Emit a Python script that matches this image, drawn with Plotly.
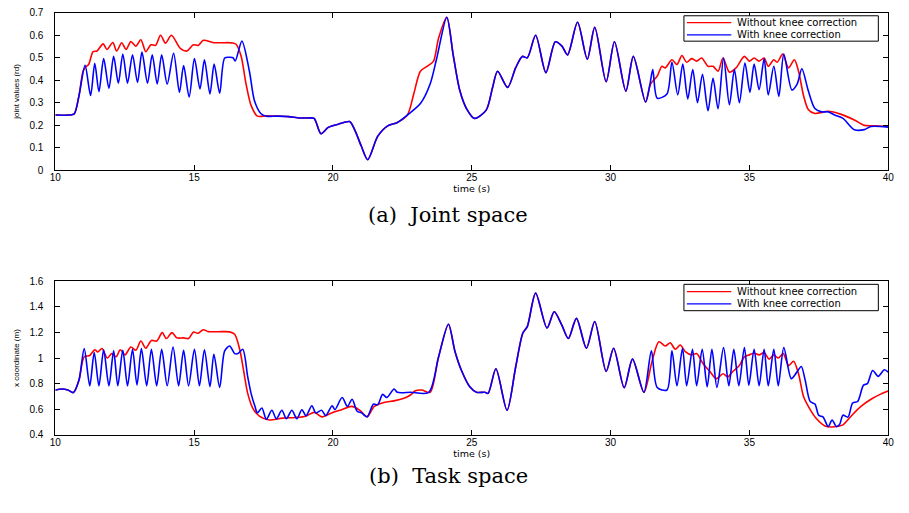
import plotly.graph_objects as go

# ---------------- joint space (upper panel) ----------------
joint_red_t = [10.0, 10.5, 10.68, 10.85, 11.0, 11.1, 11.2, 11.36, 11.5, 11.72, 11.86, 12.07, 12.21, 12.39,
               12.55, 12.72, 12.90, 13.08, 13.26, 13.44, 13.61, 13.79, 13.97, 14.18, 14.50, 14.74, 14.97,
               15.15, 15.33, 15.70, 16.0, 16.40, 16.51, 16.69, 16.87, 17.05, 17.28, 17.6, 18.0, 18.4, 18.8,
               19.1, 19.32, 19.57, 19.83, 20.19, 20.60, 20.78, 21.02, 21.25, 21.61, 21.96, 22.32, 22.68,
               22.91, 23.15, 23.39, 23.62, 23.80, 24.10, 24.33, 24.57, 24.81, 25.10, 25.52, 25.75, 25.93,
               26.29, 26.58, 26.82, 27.0, 27.30, 27.67, 28.01, 28.24, 28.45, 28.81, 29.16, 29.43, 29.84,
               30.14, 30.55, 30.82, 31.26, 31.44, 31.68, 31.85, 31.97, 32.21, 32.39, 32.57, 32.74, 32.92,
               33.1, 33.28, 33.51, 33.69, 33.87, 34.05, 34.28, 34.52, 34.82, 35.0, 35.17, 35.35, 35.53,
               35.68, 35.88, 36.0, 36.2, 36.41, 36.62, 36.77, 36.95, 37.12, 37.36, 37.84, 38.31, 38.78,
               39.14, 39.5, 40.0]
joint_red = [0.245, 0.245, 0.25, 0.33, 0.44, 0.46, 0.47, 0.527, 0.53, 0.562, 0.537, 0.568, 0.53, 0.567,
             0.537, 0.572, 0.552, 0.58, 0.527, 0.558, 0.555, 0.60, 0.565, 0.60, 0.542, 0.53, 0.558,
             0.555, 0.578, 0.567, 0.567, 0.566, 0.56, 0.508, 0.383, 0.288, 0.24, 0.242, 0.24, 0.238, 0.232,
             0.232, 0.23, 0.162, 0.19, 0.204, 0.216, 0.18, 0.107, 0.046, 0.15, 0.196, 0.212, 0.245,
             0.339, 0.44, 0.462, 0.484, 0.585, 0.68, 0.513, 0.354, 0.274, 0.23, 0.267, 0.368, 0.44,
             0.368, 0.455, 0.506, 0.5, 0.60, 0.434, 0.571, 0.553, 0.513, 0.658, 0.494, 0.636, 0.393,
             0.571, 0.351, 0.506, 0.303, 0.383, 0.418, 0.462, 0.455, 0.491, 0.47, 0.51, 0.48, 0.496,
             0.485, 0.499, 0.462, 0.462, 0.44, 0.499, 0.436, 0.455, 0.506, 0.485, 0.499, 0.485, 0.499,
             0.462, 0.491, 0.48, 0.516, 0.455, 0.491, 0.44, 0.332, 0.27, 0.252, 0.262, 0.248, 0.223,
             0.199, 0.197, 0.194]

joint_blue_t = [10.0, 10.5, 10.68, 10.85, 11.07, 11.27, 11.42, 11.57, 11.74, 11.93, 12.10, 12.27, 12.43,
                12.60, 12.78, 12.96, 13.12, 13.32, 13.49, 13.67, 13.83, 14.03, 14.26, 14.47, 14.62, 14.82,
                15.01, 15.21, 15.37, 15.57, 15.72, 15.92, 16.10, 16.30, 16.40, 16.48, 16.72, 16.99, 17.17,
                17.40, 17.6, 18.0, 18.4, 18.8, 19.1, 19.32, 19.57, 19.83, 20.19, 20.60, 20.78, 21.02,
                21.25, 21.61, 21.96, 22.32, 22.68, 23.15, 23.50, 23.74, 24.10, 24.33, 24.57, 24.81, 25.10,
                25.52, 25.75, 25.93, 26.29, 26.58, 26.82, 27.0, 27.30, 27.67, 28.01, 28.24, 28.45, 28.81,
                29.16, 29.43, 29.84, 30.14, 30.55, 30.82, 31.26, 31.42, 31.52, 31.68, 32.03, 32.21, 32.42,
                32.60, 32.78, 32.96, 33.13, 33.31, 33.51, 33.69, 33.87, 34.07, 34.28, 34.46, 34.64, 34.84,
                35.02, 35.17, 35.35, 35.53, 35.68, 35.88, 36.06, 36.24, 36.53, 36.72, 36.89, 37.12, 37.36,
                37.60, 37.84, 38.07, 38.37, 38.78, 39.14, 39.38, 40.0]
joint_blue = [0.245, 0.245, 0.25, 0.33, 0.466, 0.332, 0.475, 0.349, 0.496, 0.364, 0.506, 0.387, 0.517,
              0.387, 0.513, 0.39, 0.525, 0.387, 0.513, 0.383, 0.513, 0.383, 0.52, 0.346, 0.465, 0.325,
              0.496, 0.361, 0.491, 0.339, 0.472, 0.342, 0.499, 0.502, 0.50, 0.486, 0.574, 0.44, 0.31,
              0.252, 0.24, 0.24, 0.238, 0.232, 0.232, 0.23, 0.162, 0.19, 0.204, 0.216, 0.18, 0.107,
              0.046, 0.15, 0.196, 0.212, 0.245, 0.296, 0.383, 0.499, 0.68, 0.513, 0.354, 0.274, 0.23,
              0.267, 0.368, 0.44, 0.368, 0.455, 0.506, 0.5, 0.60, 0.434, 0.571, 0.553, 0.513, 0.658,
              0.494, 0.636, 0.393, 0.571, 0.351, 0.506, 0.303, 0.383, 0.448, 0.32, 0.339, 0.48, 0.335,
              0.472, 0.317, 0.448, 0.30, 0.426, 0.264, 0.409, 0.273, 0.499, 0.291, 0.448, 0.30, 0.476,
              0.346, 0.472, 0.358, 0.496, 0.335, 0.462, 0.328, 0.516, 0.357, 0.383, 0.451, 0.354, 0.274,
              0.259, 0.259, 0.245, 0.23, 0.18, 0.18, 0.194, 0.191]

# ---------------- task space (lower panel) ----------------
task_red_t = [10.0, 10.24, 10.45, 10.65, 10.85, 11.04, 11.24, 11.42, 11.53, 11.68, 11.87, 12.03, 12.19,
              12.34, 12.51, 12.72, 12.90, 13.08, 13.26, 13.46, 13.65, 13.85, 14.0, 14.20, 14.38, 14.62,
              14.80, 14.98, 15.13, 15.33, 15.51, 16.0, 16.28, 16.46, 16.64, 16.78, 16.93, 17.11, 17.35,
              17.70, 18.18, 18.66, 19.02, 19.33, 19.6, 19.95, 20.31, 20.67, 20.97, 21.23, 21.49, 21.84,
              22.20, 22.56, 22.79, 22.97, 23.2, 23.50, 23.80, 24.16, 24.39, 24.63, 24.93, 25.17, 25.47,
              25.59, 25.87, 26.27, 26.58, 26.84, 27.0, 27.30, 27.71, 27.97, 28.24, 28.48, 28.77, 29.13,
              29.43, 29.84, 30.11, 30.49, 30.79, 31.20, 31.5, 31.74, 31.97, 32.15, 32.33, 32.51, 32.69,
              32.92, 33.1, 33.34, 33.58, 33.81, 34.05, 34.22, 34.40, 34.64, 34.82, 35.0, 35.17, 35.35,
              35.53, 35.71, 35.88, 36.04, 36.22, 36.41, 36.59, 36.77, 36.95, 37.19, 37.42, 37.72, 38.07,
              38.37, 38.66, 39.02, 39.38, 39.73, 40.0]
task_red = [0.75, 0.758, 0.75, 0.73, 0.826, 1.01, 1.02, 1.065, 1.048, 1.075, 1.0, 1.035, 1.01,
            1.065, 1.025, 1.087, 1.061, 1.133, 1.077, 1.138, 1.133, 1.199, 1.153, 1.199, 1.158, 1.158,
            1.153, 1.204, 1.194, 1.222, 1.207, 1.207, 1.205, 1.186, 1.069, 0.903, 0.724, 0.609, 0.545,
            0.515, 0.53, 0.535, 0.545, 0.575, 0.54, 0.571, 0.596, 0.622, 0.591, 0.54, 0.622, 0.653,
            0.665, 0.686, 0.711, 0.745, 0.75, 0.732, 1.005, 1.265, 1.056, 0.903, 0.775, 0.732, 0.732,
            0.724, 0.916, 0.591, 0.928, 1.196, 1.246, 1.508, 1.235, 1.362, 1.26, 1.153, 1.311, 1.077,
            1.286, 0.895, 1.077, 0.768, 0.992, 0.732, 0.98, 1.127, 1.095, 1.12, 1.069, 1.102, 1.051,
            1.025, 1.035, 0.954, 0.895, 0.839, 0.877, 0.852, 0.895, 0.941, 1.01, 1.025, 1.038, 1.025,
            1.043, 0.992, 1.025, 1.0, 1.035, 0.941, 0.975, 0.877, 0.699, 0.597, 0.525, 0.469, 0.462,
            0.477, 0.545, 0.622, 0.678, 0.718, 0.742]

task_blue_t = [10.0, 10.24, 10.45, 10.65, 10.85, 11.04, 11.24, 11.40, 11.57, 11.74, 11.93, 12.10, 12.25,
               12.43, 12.60, 12.78, 12.94, 13.10, 13.29, 13.46, 13.65, 13.83, 14.03, 14.24, 14.44, 14.62,
               14.80, 15.01, 15.19, 15.37, 15.57, 15.71, 15.92, 16.10, 16.28, 16.46, 16.58, 16.75, 16.93,
               17.05, 17.19, 17.28, 17.44, 17.60, 17.80, 17.96, 18.16, 18.32, 18.52, 18.70, 18.88, 19.03,
               19.24, 19.38, 19.59, 19.74, 19.97, 20.07, 20.33, 20.52, 20.69, 20.87, 21.03, 21.23, 21.46,
               21.61, 21.79, 21.94, 22.2, 22.32, 22.8, 23.45, 23.80, 24.16, 24.39, 24.63, 24.93, 25.17,
               25.47, 25.59, 25.87, 26.27, 26.58, 26.84, 27.0, 27.30, 27.71, 27.97, 28.24, 28.48, 28.77,
               29.13, 29.43, 29.84, 30.11, 30.49, 30.79, 31.20, 31.47, 31.68, 32.03, 32.21, 32.39, 32.59,
               32.74, 32.95, 33.1, 33.30, 33.48, 33.65, 33.83, 34.07, 34.26, 34.44, 34.62, 34.82, 34.98,
               35.17, 35.35, 35.53, 35.68, 35.88, 36.04, 36.24, 36.51, 36.71, 36.87, 37.01, 37.19, 37.36,
               37.50, 37.65, 37.84, 37.98, 38.13, 38.25, 38.37, 38.55, 38.72, 38.90, 39.11, 39.25, 39.44,
               39.64, 39.86, 40.0]
task_blue = [0.75, 0.758, 0.75, 0.73, 0.826, 1.074, 0.783, 1.043, 0.783, 1.064, 0.783, 1.056, 0.783,
             1.061, 0.783, 1.069, 0.79, 1.074, 0.783, 1.069, 0.783, 1.069, 0.783, 1.087, 0.783, 1.061,
             0.783, 1.069, 0.783, 1.064, 0.776, 1.03, 0.77, 1.056, 1.094, 1.035, 1.035, 1.069, 0.852,
             0.724, 0.622, 0.571, 0.609, 0.52, 0.591, 0.525, 0.591, 0.525, 0.591, 0.525, 0.596, 0.548,
             0.627, 0.57, 0.591, 0.55, 0.627, 0.596, 0.691, 0.621, 0.678, 0.584, 0.571, 0.54, 0.64,
             0.635, 0.716, 0.691, 0.758, 0.732, 0.732, 0.732, 1.005, 1.265, 1.056, 0.903, 0.775, 0.732,
             0.732, 0.724, 0.916, 0.591, 0.928, 1.196, 1.246, 1.508, 1.235, 1.362, 1.26, 1.153, 1.311,
             1.077, 1.286, 0.895, 1.077, 0.768, 0.992, 0.732, 1.056, 0.77, 0.75, 1.056, 0.783, 1.077,
             0.783, 1.069, 0.783, 1.069, 0.776, 1.069, 0.77, 1.082, 0.783, 1.069, 0.783, 1.082, 0.788,
             1.069, 0.783, 1.069, 0.783, 1.069, 0.783, 1.082, 0.839, 0.89, 0.934, 0.826, 0.66, 0.64,
             0.551, 0.54, 0.464, 0.515, 0.464, 0.48, 0.553, 0.538, 0.648, 0.66, 0.788, 0.8, 0.903,
             0.857, 0.908, 0.89]

series_names = ["Without knee correction", "With knee correction"]
captions = ["(a)  Joint space", "(b)  Task space"]
x_ticks = [10, 15, 20, 25, 30, 35, 40]
joint_ticks = [0, 0.1, 0.2, 0.3, 0.4, 0.5, 0.6, 0.7]
joint_tick_text = ["0", "0.1", "0.2", "0.3", "0.4", "0.5", "0.6", "0.7"]
task_ticks = [0.4, 0.6, 0.8, 1.0, 1.2, 1.4, 1.6]
task_tick_text = ["0.4", "0.6", "0.8", "1", "1.2", "1.4", "1.6"]

W, H = 909, 513
RED, BLUE = "#ff0000", "#0000ff"
TICK_FONT = dict(family="Liberation Sans, Arial, sans-serif", size=10, color="#000000")


def px(x):
    return x / W


def py(y):
    return 1 - y / H


fig = go.Figure()

line_kw = dict(shape="spline", smoothing=0.8, width=1.6)
fig.add_trace(go.Scatter(x=joint_red_t, y=joint_red, mode="lines", name=series_names[0],
                         line=dict(color=RED, **line_kw), xaxis="x", yaxis="y", showlegend=False))
fig.add_trace(go.Scatter(x=joint_blue_t, y=joint_blue, mode="lines", name=series_names[1],
                         line=dict(color=BLUE, **line_kw), xaxis="x", yaxis="y", showlegend=False))
fig.add_trace(go.Scatter(x=task_red_t, y=task_red, mode="lines", name=series_names[0],
                         line=dict(color=RED, **line_kw), xaxis="x2", yaxis="y2", showlegend=False))
fig.add_trace(go.Scatter(x=task_blue_t, y=task_blue, mode="lines", name=series_names[1],
                         line=dict(color=BLUE, **line_kw), xaxis="x2", yaxis="y2", showlegend=False))

axis_common = dict(showline=True, linecolor="black", linewidth=1, mirror="allticks",
                   ticks="inside", ticklen=5, tickcolor="black", showgrid=False, zeroline=False,
                   tickfont=TICK_FONT)
xdom = [px(50), px(894)]
title_font = dict(family="DejaVu Sans, sans-serif", size=9.5, color="#000000")
ytitle_font = dict(family="Liberation Sans, Arial, sans-serif", size=8, color="#000000")

fig.update_layout(
    width=W, height=H, margin=dict(l=0, r=0, t=0, b=0),
    paper_bgcolor="white", plot_bgcolor="white",
    xaxis=dict(domain=xdom, range=[10, 40], tickvals=x_ticks, anchor="y",
               title=dict(text="time (s)", font=title_font, standoff=0), ticklabelstandoff=-2,
               **axis_common),
    yaxis=dict(domain=[py(168), py(7)], range=[0, 0.7], tickvals=joint_ticks, ticktext=joint_tick_text,
               anchor="x", title=dict(text="joint values (rd)", font=ytitle_font, standoff=8),
               ticklabelstandoff=9, **axis_common),
    xaxis2=dict(domain=xdom, range=[10, 40], tickvals=x_ticks, anchor="y2",
                title=dict(text="time (s)", font=title_font, standoff=0), ticklabelstandoff=-2,
                **axis_common),
    yaxis2=dict(domain=[py(439), py(282)], range=[0.4, 1.6], tickvals=task_ticks, ticktext=task_tick_text,
                anchor="x2", title=dict(text="x coordinate (m)", font=ytitle_font, standoff=8),
                ticklabelstandoff=9, **axis_common),
)

# sub-figure captions
caption_font = dict(family="DejaVu Serif, serif", size=21, color="#000000")
for text, yc in zip(captions, [214, 481]):
    fig.add_annotation(text=text, x=px(448), y=py(yc), xref="paper", yref="paper",
                       xanchor="center", yanchor="middle", showarrow=False, font=caption_font)

# boxed legends in the upper-right corner of each panel
legend_font = dict(family="DejaVu Sans, sans-serif", size=10, color="#000000")
for top, bottom, rows in [(10, 36, (17, 29.5)), (285, 312, (292.5, 305))]:
    fig.add_shape(type="rect", xref="paper", yref="paper",
                  x0=px(687), x1=px(884), y0=py(bottom), y1=py(top),
                  line=dict(color="black", width=1), fillcolor="white", layer="above")
    for name, color, yr in zip(series_names, [RED, BLUE], rows):
        fig.add_shape(type="line", xref="paper", yref="paper",
                      x0=px(690), x1=px(735), y0=py(yr), y1=py(yr),
                      line=dict(color=color, width=1.2), layer="above")
        fig.add_annotation(text=name, x=px(740), y=py(yr), xref="paper", yref="paper",
                           xanchor="left", yanchor="middle", showarrow=False, font=legend_font,
                           borderpad=0)

fig.write_html("out.html")
